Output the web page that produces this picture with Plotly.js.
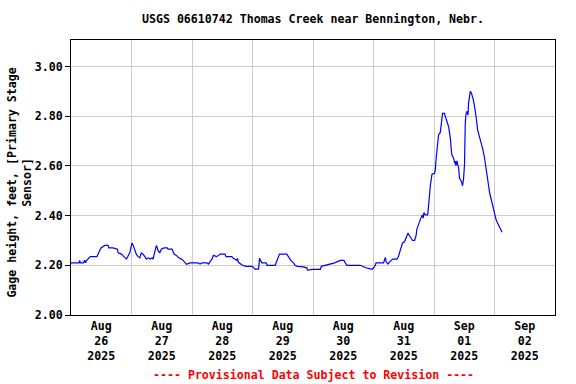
<!DOCTYPE html>
<html>
<head>
<meta charset="utf-8">
<script src="https://cdn.plot.ly/plotly-3.0.1.min.js"></script>
<style>html,body{margin:0;padding:0;background:#fff;}#chart{width:576px;height:384px;}</style>
</head>
<body>
<div id="chart"></div>
<script>
// Hours since 2025-08-26 00:00 (local station time)
const hoursSinceStart = [
  0, 3.2, 3.45, 3.7, 5.0, 5.4, 5.8, 6.2, 7.7, 10.3, 11.4, 11.9, 13.4, 14.7, 15.0, 16.7, 18.4, 18.7, 20.0, 21.0, 22.0,
  23.3, 23.8, 24.2, 24.7, 25.3, 25.9, 26.6, 27.3, 27.9, 28.6, 29.3, 29.9, 30.6, 31.4, 32.2, 32.6, 33.0, 33.5, 33.9,
  34.5, 35.2, 35.8, 36.9, 38.2, 38.5, 40.1, 40.9, 41.8, 42.8, 43.8, 44.5, 45.8, 47.2, 50.4, 51.2, 52.0, 53.9, 54.5,
  55.2, 55.9, 56.5, 57.8, 58.5, 59.2, 61.1, 61.5, 63.8, 64.4, 65.8, 66.0, 66.4, 68.0, 69.4, 71.9, 73.0, 74.4, 74.8,
  75.2, 75.7, 77.4, 77.8, 81.0, 81.7, 82.2, 82.7, 85.6, 86.3, 87.2, 88.3, 88.9, 89.8, 91.6, 93.6, 93.8, 96.0, 98.9,
  99.3, 100.8, 103.5, 104.6, 106.8, 108.3, 108.8, 109.5, 114.7, 117.0, 119.4, 120.1, 120.7, 121.0, 124.0, 124.4,
  124.7, 125.0, 125.7, 126.2, 127.6, 129.3, 129.9, 130.6, 131.0, 131.5, 132.3, 132.9, 133.7, 134.2, 135.0, 135.5,
  136.3, 136.9, 137.2, 137.9, 138.6, 139.3, 139.7, 140.0, 140.5, 141.5, 141.9, 142.3, 142.5, 142.9, 143.2, 144.1,
  144.5, 144.8, 145.2, 145.4, 145.8, 146.5, 146.9, 147.2, 147.4, 148.1, 148.5, 148.9, 149.4, 149.8, 150.1, 150.5,
  150.9, 151.1, 151.8, 152.2, 152.4, 152.7, 153.1, 153.4, 153.8, 154.1, 154.5, 155.1, 155.3, 155.7, 156.1, 156.4,
  156.7, 157.1, 157.5, 157.7, 158.1, 158.4, 158.8, 159.1, 159.5, 160.0, 160.4, 160.8, 161.3, 162.0, 162.6, 163.3,
  164.0, 164.4, 164.8, 165.2, 165.7, 166.1, 166.6, 167.0, 167.7, 168.0, 168.6, 169.2, 169.9, 170.6, 171.0
];
const gageHeight = [
  2.21, 2.21, 2.22, 2.21, 2.21, 2.22, 2.21, 2.22, 2.235, 2.235, 2.26, 2.27, 2.28, 2.28, 2.27, 2.27, 2.265, 2.25, 2.245, 2.235, 2.225,
  2.25, 2.27, 2.29, 2.28, 2.26, 2.245, 2.235, 2.23, 2.25, 2.245, 2.235, 2.225, 2.23, 2.225, 2.23, 2.225, 2.245, 2.26, 2.28,
  2.26, 2.25, 2.265, 2.27, 2.27, 2.265, 2.265, 2.245, 2.24, 2.23, 2.225, 2.22, 2.204, 2.21, 2.21, 2.205, 2.21, 2.21, 2.205,
  2.215, 2.225, 2.24, 2.235, 2.24, 2.245, 2.245, 2.235, 2.235, 2.228, 2.22, 2.228, 2.212, 2.2, 2.196, 2.196, 2.185, 2.185, 2.228,
  2.22, 2.21, 2.21, 2.2, 2.2, 2.22, 2.235, 2.245, 2.245, 2.235, 2.22, 2.21, 2.2, 2.196, 2.195, 2.19, 2.181, 2.184, 2.184,
  2.196, 2.2, 2.21, 2.21, 2.22, 2.22, 2.21, 2.2, 2.2, 2.19, 2.184, 2.19, 2.2, 2.21, 2.21, 2.221,
  2.232, 2.215, 2.205, 2.212, 2.225, 2.225, 2.235, 2.26, 2.275, 2.29, 2.295, 2.31, 2.33, 2.32, 2.31, 2.3,
  2.3, 2.32, 2.345, 2.37, 2.385, 2.403, 2.39, 2.412, 2.403, 2.403, 2.47, 2.49, 2.517, 2.544, 2.567, 2.57,
  2.58, 2.624, 2.665, 2.707, 2.725, 2.735, 2.77, 2.79, 2.812, 2.812, 2.80, 2.79, 2.77, 2.758, 2.738, 2.71,
  2.66, 2.645, 2.63, 2.61, 2.62, 2.6, 2.62, 2.605, 2.59, 2.55, 2.545, 2.53, 2.52, 2.545, 2.604, 2.772,
  2.81, 2.82, 2.805, 2.853, 2.886, 2.90, 2.895, 2.886, 2.87, 2.845, 2.82, 2.79, 2.745, 2.72, 2.69, 2.67,
  2.636, 2.605, 2.571, 2.544, 2.517, 2.49, 2.47, 2.45, 2.423, 2.403, 2.385, 2.37, 2.356, 2.342, 2.333
];
const startDate = "2025-08-26";
const endDate = "2025-09-03";
const yTickValues = [2.0, 2.2, 2.4, 2.6, 2.8, 3.0];
const titleText = "USGS 06610742 Thomas Creek near Bennington, Nebr.";
const yTitleText = "Gage height, feet, [Primary Stage<br>Sensor]";
const footerText = "---- Provisional Data Subject to Revision ----";

const t0 = Date.UTC(2025, 7, 26, 0, 0, 0);
function hoursToStamp(h) {
  const d = new Date(t0 + Math.round(h * 60) * 60000);
  return d.toISOString().slice(0, 16).replace("T", " ");
}
const times = hoursSinceStart.map(hoursToStamp);

const FONT = "DejaVu Sans Mono, Liberation Mono, monospace";
const FS = 11.6;
const baseFont = {family: FONT, size: FS, color: "#000", weight: "bold"};

const data = [{
  x: times,
  y: gageHeight,
  type: "scatter",
  mode: "lines",
  line: {color: "#0000ff", width: 1.2},
  hoverinfo: "skip"
}];

const layout = {
  width: 576,
  height: 384,
  margin: {l: 71, r: 21, t: 40, b: 69},
  paper_bgcolor: "#fff",
  plot_bgcolor: "#fff",
  showlegend: false,
  font: baseFont,
  title: {
    text: titleText,
    font: {family: FONT, size: FS, color: "#000", weight: "bold"},
    xref: "paper", x: 0.5, xanchor: "center",
    yref: "container", y: 1 - 19 / 384, yanchor: "middle"
  },
  xaxis: {
    type: "date",
    range: [startDate, endDate],
    tick0: startDate,
    dtick: 86400000,
    tickformat: "%b<br>%d<br>%Y",
    ticklabelmode: "period",
    ticks: "",
    showgrid: true,
    gridcolor: "#cccccc",
    gridwidth: 1,
    showline: true,
    linecolor: "#000",
    linewidth: 1,
    mirror: true,
    zeroline: false,
    tickfont: baseFont,
    fixedrange: true
  },
  yaxis: {
    range: [2.0, 3.107],
    tickvals: yTickValues,
    tickformat: ".2f",
    ticks: "outside",
    ticklen: 5,
    tickcolor: "#000",
    showgrid: true,
    gridcolor: "#cccccc",
    gridwidth: 1,
    showline: true,
    linecolor: "#000",
    linewidth: 1,
    mirror: true,
    zeroline: false,
    tickfont: baseFont,
    fixedrange: true
  },
  annotations: [
    {
      text: yTitleText,
      textangle: -90,
      xref: "paper", x: (18.5 - 71) / 485, xanchor: "center",
      yref: "paper", y: (315 - 183) / 275, yanchor: "middle",
      showarrow: false,
      font: baseFont
    },
    {
      text: footerText,
      xref: "paper", x: 0.5, xanchor: "center",
      yref: "paper", y: (315 - 375) / 275, yanchor: "middle",
      showarrow: false,
      font: {family: FONT, size: FS, color: "#ff0000", weight: "bold"}
    }
  ]
};

Plotly.newPlot("chart", data, layout, {displayModeBar: false, staticPlot: true});
</script>
</body>
</html>
